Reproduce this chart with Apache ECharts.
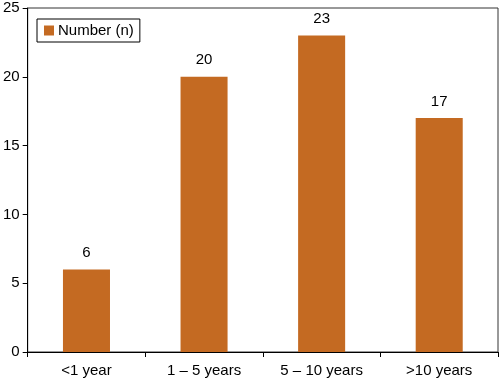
<!DOCTYPE html>
<html><head><meta charset="utf-8">
<script src="https://cdn.jsdelivr.net/npm/echarts@6/dist/echarts.min.js"></script>
<style>html,body{margin:0;padding:0;background:#fff}#c{width:500px;height:378px}</style>
</head><body><div id="c"></div>
<script>
const categories = ['<1 year', '1 – 5 years', '5 – 10 years', '>10 years'];
const values = [6, 20, 23, 17];
const seriesName = 'Number (n)';
const yTicks = [0, 5, 10, 15, 20, 25];

const chart = echarts.init(document.getElementById('c'), null, {renderer: 'canvas'});
const font = 'Liberation Sans, Arial, Helvetica, sans-serif';
chart.setOption({
  animation: false,
  backgroundColor: '#fff',
  textStyle: {fontFamily: font},
  grid: {left: 25, right: 2, top: 8, bottom: 26, show: true, borderColor: '#333', borderWidth: 1, containLabel: false},
  legend: {
    left: 37, top: 19, orient: 'horizontal',
    data: [seriesName], icon: 'rect', itemWidth: 10, itemHeight: 10, itemGap: 5,
    borderColor: '#000', borderWidth: 1, padding: [4, 6, 4, 7], backgroundColor: '#fff',
    textStyle: {fontSize: 15, lineHeight: 15, color: '#000', fontFamily: font, padding: [0, 0, 0, -1]}
  },
  xAxis: {
    type: 'category', data: categories,
    axisLine: {lineStyle: {color: '#000', width: 1}},
    axisTick: {show: true, alignWithLabel: false, length: 5, lineStyle: {color: '#000'}},
    axisLabel: {fontSize: 15, color: '#000', margin: 11, fontFamily: font},
    splitLine: {show: false}
  },
  yAxis: {
    type: 'value', min: yTicks[0], max: yTicks[yTicks.length - 1], interval: 5,
    axisLine: {show: true, lineStyle: {color: '#000', width: 1}},
    axisTick: {show: true, length: 5, lineStyle: {color: '#000'}},
    axisLabel: {fontSize: 15, color: '#000', margin: 8, fontFamily: font},
    splitLine: {show: false}
  },
  series: [{
    name: seriesName, type: 'bar', data: values, barWidth: '40%',
    itemStyle: {color: '#C46A22'},
    label: {show: true, position: 'top', distance: 9, fontSize: 15, color: '#000', fontFamily: font}
  }]
});
</script></body></html>
